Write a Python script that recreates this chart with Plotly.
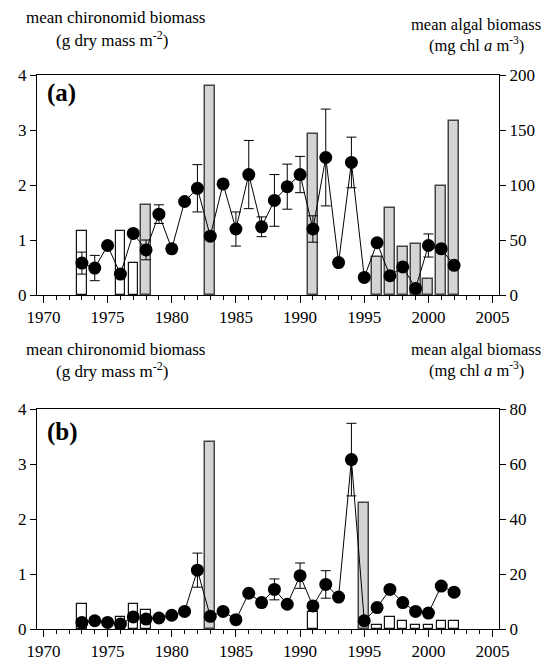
import plotly.graph_objects as go

years = list(range(1973, 2003))

# Panel (a): chironomid biomass (left axis, g dry mass m-2)
chiro_a = [0.58, 0.49, 0.90, 0.38, 1.12, 0.82, 1.47, 0.84, 1.70, 1.94,
           1.07, 2.02, 1.20, 2.19, 1.24, 1.72, 1.97, 2.19, 1.20, 2.50,
           0.59, 2.41, 0.32, 0.95, 0.35, 0.51, 0.12, 0.90, 0.84, 0.54]
err_a = [0.20, 0.23, 0, 0, 0, 0.18, 0.17, 0, 0, 0.43,
         0, 0, 0.31, 0.62, 0.18, 0.47, 0.41, 0.33, 0.24, 0.88,
         0, 0.46, 0, 0, 0, 0, 0, 0.21, 0, 0]
# Panel (a): algal biomass (right axis, mg chl a m-3)
grey_years_a = [1978, 1983, 1991, 1996, 1997, 1998, 1999, 2000, 2001, 2002]
grey_vals_a = [82, 190, 146, 35, 79, 44, 46, 15, 99, 158]
white_years_a = [1973, 1976, 1977]
white_vals_a = [58, 58, 29]

# Panel (b)
chiro_b = [0.12, 0.15, 0.12, 0.09, 0.22, 0.18, 0.20, 0.25, 0.32, 1.07,
           0.23, 0.32, 0.17, 0.65, 0.48, 0.72, 0.45, 0.97, 0.42, 0.81,
           0.58, 3.08, 0.15, 0.39, 0.72, 0.48, 0.32, 0.29, 0.78, 0.67]
err_b = [0, 0, 0, 0, 0, 0, 0, 0, 0, 0.31,
         0, 0, 0, 0, 0, 0.19, 0, 0.23, 0, 0.25,
         0, 0.66, 0, 0, 0, 0, 0, 0, 0, 0]
grey_years_b = [1983, 1995]
grey_vals_b = [68, 46]
white_years_b = [1973, 1976, 1977, 1978, 1991, 1996, 1997, 1998, 1999, 2000, 2001, 2002]
white_vals_b = [9.1, 4.5, 9.1, 6.8, 6.3, 1.3, 4.5, 2.9, 1.3, 1.3, 2.9, 2.9]

x_ticks = [1970, 1975, 1980, 1985, 1990, 1995, 2000, 2005]

FONT = "Liberation Serif, Times New Roman, serif"
W, H = 548, 660

fig = go.Figure()

def add_panel(xa, ybar, ysc, grey_years, grey_vals, white_years, white_vals, chiro, err):
    fig.add_trace(go.Bar(x=white_years, y=white_vals, width=0.72, xaxis=xa, yaxis=ybar,
                         marker=dict(color="white", line=dict(color="#111", width=1.2)),
                         showlegend=False))
    fig.add_trace(go.Bar(x=grey_years, y=grey_vals, width=0.78, xaxis=xa, yaxis=ybar,
                         marker=dict(color="#d4d4d4", line=dict(color="#444", width=1.5)),
                         showlegend=False))
    fig.add_trace(go.Scatter(x=years, y=chiro, xaxis=xa, yaxis=ysc, mode="lines+markers",
                             line=dict(color="black", width=1),
                             marker=dict(color="black", size=13),
                             error_y=dict(type="data", array=err, symmetric=True,
                                          color="black", thickness=1, width=5),
                             showlegend=False))

add_panel("x", "y", "y2", grey_years_a, grey_vals_a, white_years_a, white_vals_a, chiro_a, err_a)
add_panel("x2", "y3", "y4", grey_years_b, grey_vals_b, white_years_b, white_vals_b, chiro_b, err_b)

xd = [37 / W, 499 / W]
dom_a = [1 - 295 / H, 1 - 75 / H]
dom_b = [1 - 629 / H, 1 - 409 / H]

TICKFONT = dict(family=FONT, size=17, color="black")

def xaxis(anchor):
    return dict(domain=xd, anchor=anchor, range=[1969.5, 2005.5], tickvals=x_ticks,
                ticks="outside", ticklen=7, tickwidth=1, tickcolor="black",
                showline=True, linecolor="black", linewidth=1, mirror=True,
                showgrid=False, zeroline=False, automargin=False,
                tickfont=TICKFONT,
                minor=dict(ticks="outside", ticklen=4, dtick=1, tick0=1970,
                           tickcolor="black", showgrid=False))

def yright(dom, anchor, rng, dt):
    return dict(domain=dom, anchor=anchor, side="right", range=rng, dtick=dt, tick0=0,
                ticks="outside", ticklen=6, tickcolor="black", showline=True,
                linecolor="black", linewidth=1, showgrid=False, zeroline=False,
                automargin=False, tickfont=TICKFONT)

def yleft(over, anchor):
    return dict(overlaying=over, anchor=anchor, side="left", range=[0, 4], dtick=1, tick0=0,
                ticks="outside", ticklen=6, tickcolor="black", showline=True,
                linecolor="black", linewidth=1, showgrid=False, zeroline=False,
                automargin=False, tickfont=TICKFONT)

fig.update_layout(
    width=W, height=H, margin=dict(l=0, r=0, t=0, b=0, autoexpand=False),
    paper_bgcolor="white", plot_bgcolor="white",
    font=dict(family=FONT, color="black"),
    bargap=0, barmode="overlay",
    xaxis=xaxis("y"), xaxis2=xaxis("y3"),
    yaxis=yright(dom_a, "x", [0, 200], 50),
    yaxis2=yleft("y", "x"),
    yaxis3=yright(dom_b, "x2", [0, 80], 20),
    yaxis4=yleft("y3", "x2"),
)

def txt(s, xpx, ypx, size=17, xanchor="center"):
    fig.add_annotation(text=s, x=xpx / W, y=1 - ypx / H, xref="paper", yref="paper",
                       xanchor=xanchor, yanchor="middle", showarrow=False,
                       font=dict(family=FONT, size=size, color="black"))

for dyl, dyr in [(0, 0), (331, 325)]:
    txt("mean chironomid biomass", 115, 18 + dyl)
    txt("(g dry mass m<sup>-2</sup>)", 112, 39 + dyl)
    txt("mean algal biomass", 476, 24 + dyr, size=16.5)
    txt("(mg chl <i>a</i> m<sup>-3</sup>)", 476, 45 + dyr, size=16.5)

txt("<b>(a)</b>", 45, 93, size=25, xanchor="left")
txt("<b>(b)</b>", 45, 432, size=25, xanchor="left")

fig.write_html("out.html")
